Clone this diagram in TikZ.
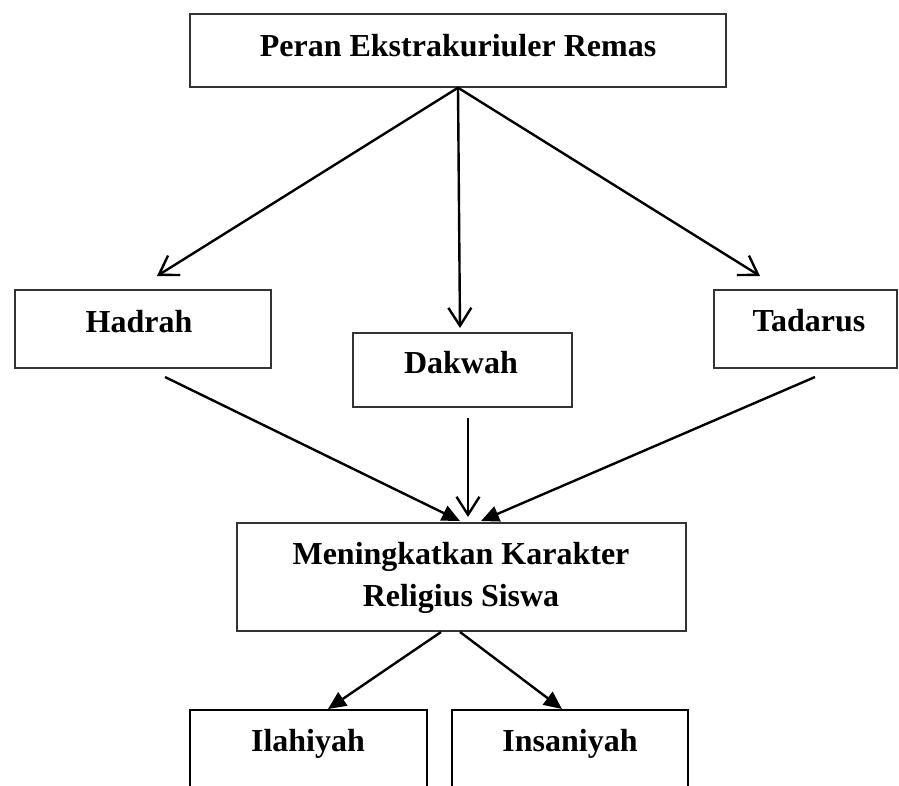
\documentclass[tikz,border=0pt]{standalone}
\usepackage{fontspec}
\setmainfont{Liberation Serif}
\usetikzlibrary{arrows.meta}
\begin{document}
\begin{tikzpicture}[x=1pt,y=-1pt,
  box/.style={draw=black!80, line width=1.4pt, rectangle, inner sep=0pt},
  thickbox/.style={draw=black, line width=2.4pt, rectangle, inner sep=0pt},
  lbl/.style={font=\fontsize{32}{42}\selectfont\bfseries, anchor=base, inner sep=0pt},
  barb/.style={line width=2.4pt, -{Straight Barb[length=18pt,width=23pt]}},
  tri/.style={line width=2.4pt, -{Triangle[length=18pt,width=16pt]}}]
\useasboundingbox (0,0) rectangle (899,785);
\clip (0,0) rectangle (899,785);
% boxes
\node[box, minimum width=536pt, minimum height=73pt] (peran) at (458,50.5) {};
\node[box, minimum width=256pt, minimum height=78pt] (hadrah) at (143,329) {};
\node[box, minimum width=219pt, minimum height=74pt] (dakwah) at (462.5,370) {};
\node[box, minimum width=183pt, minimum height=78pt] (tadarus) at (805.5,329) {};
\node[box, minimum width=449pt, minimum height=108pt] (mening) at (461.5,577) {};
\node[thickbox, minimum width=237pt, minimum height=120pt] (ilahi) at (308.5,770) {};
\node[thickbox, minimum width=236pt, minimum height=120pt] (insan) at (570,770) {};
% labels
\node[lbl] (peranT) at (458,56) {Peran Ekstrakuriuler Remas};
\node[lbl] (hadrahT) at (139,332) {Hadrah};
\node[lbl] (dakwahT) at (461,373) {Dakwah};
\node[lbl] (tadarusT) at (809,331) {Tadarus};
\node[lbl] (meningA) at (461,564) {Meningkatkan Karakter};
\node[lbl] (meningB) at (461,606) {Religius Siswa};
\node[lbl] (ilahiT) at (308,751) {Ilahiyah};
\node[lbl] (insanT) at (570,751) {Insaniyah};
% connector ends
\coordinate (tH) at (157,276);
\coordinate (tD) at (460,328);
\coordinate (tT) at (760,276);
\coordinate (hOut) at (165,377);
\coordinate (dOut) at (468,418);
\coordinate (tOut) at (815,377);
\coordinate (mIn1) at (460,521);
\coordinate (mIn2) at (468,517);
\coordinate (mIn3) at (481,521);
\coordinate (mOut1) at (441,632);
\coordinate (mOut2) at (460,632);
\coordinate (iIn) at (328,709);
\coordinate (sIn) at (562,709);
% arrows
\draw[barb] (peran.south) -- (tH);
\draw[barb] (peran.south) -- (tD);
\draw[barb] (peran.south) -- (tT);
\draw[tri] (hOut) -- (mIn1);
\draw[barb] (dOut) -- (mIn2);
\draw[tri] (tOut) -- (mIn3);
\draw[tri] (mOut1) -- (iIn);
\draw[tri] (mOut2) -- (sIn);
\end{tikzpicture}
\end{document}
